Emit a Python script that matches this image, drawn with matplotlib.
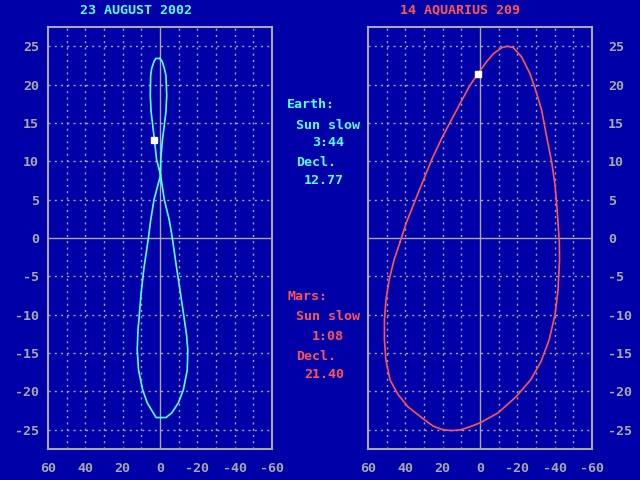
import matplotlib.pyplot as plt

# Earth analemma: sun slow/fast (min) vs declination (deg)
tierra_x = [0.0, 2.3, 3.2, 4.45, 5.0, 5.2, 4.8, 3.9, 3.0, 1.8, -0.3, -2.3, -5.0,
            -6.6, -8.9, -11.1, -12.9, -14.2, -14.9, -14.6, -12.5, -9.8, -6.3,
            -3.2, 2.1, 3.6, 6.8, 9.3, 11.5, 12.2, 11.8, 11.2, 10.2, 8.6, 6.2, 5.0,
            3.2, -0.3, -0.4, -1.3, -2.3, -3.2, -3.6, -3.2, -2.3, -1.2, 0.0]
tierra_y = [23.4, 23.4, 23.0, 22.1, 21.2, 18.6, 16.5, 14.7, 12.8, 10.2, 8.2, 5.0,
            2.3, 0.0, -3.9, -7.4, -10.4, -12.6, -14.6, -17.2, -19.8, -21.5, -22.8,
            -23.4, -23.4, -22.8, -21.5, -19.8, -17.2, -14.6, -12.0, -10.4, -7.4,
            -3.9, 0.0, 2.3, 5.0, 8.2, 10.2, 12.8, 14.7, 16.5, 18.6, 21.2, 22.1,
            23.0, 23.4]

# Mars analemma
marte_x = [42.8, 39.3, 33.9, 25.9, 20.3, 11.6, 5.4, -0.4, -3.6, -7.1, -11.6,
           -14.7, -17.9, -22.3, -26.8, -29.5, -33.0, -35.7, -38.4, -40.2, -41.4,
           -42.5, -42.6, -41.8, -40.2, -37.0, -32.7, -27.1, -19.3, -9.6, 0.0, 5.4,
           10.2, 15.0, 19.8, 25.2, 29.7, 38.6, 43.9, 48.2, 50.4, 51.2, 51.2, 50.4,
           48.7, 46.1, 42.8]
marte_y = [-0.5, 2.1, 5.4, 10.2, 13.1, 17.1, 19.9, 21.9, 23.0, 24.0, 24.8,
           25.0, 24.8, 23.6, 21.4, 19.5, 16.7, 13.2, 9.9, 6.9, 3.4,
           -0.5, -2.9, -6.8, -10.0, -13.3, -16.1, -18.5, -20.7, -22.8, -24.1, -24.6,
           -25.0, -25.1, -25.0, -24.5, -23.7, -22.0, -20.4, -18.5, -15.9, -13.3,
           -10.7, -8.1, -5.5, -2.9, -0.5]

# current position of the sun
tierra_hoy = (3.1, 12.77)
marte_hoy = (1.0, 21.40)

xticks = [60, 40, 20, 0, -20, -40, -60]
yticks = [-25, -20, -15, -10, -5, 0, 5, 10, 15, 20, 25]

fondo = '#0000a8'
gris = '#a8a8a8'
cian = '#55ffff'
rojo = '#ff5555'

plt.rcParams['font.family'] = 'DejaVu Sans Mono'
plt.rcParams['font.weight'] = 'bold'
plt.rcParams['axes.unicode_minus'] = False


def panel(ax, xs, ys, hoy, color, derecha):
    ax.set_facecolor(fondo)
    ax.set_xlim(60, -60)
    ax.set_ylim(-27.5, 27.5)
    for v in range(-50, 60, 10):
        if v != 0:
            ax.axvline(v, color=gris, lw=1.0, ls=(0, (1.5, 3)))
    for v in yticks:
        if v != 0:
            ax.axhline(v, color=gris, lw=1.0, ls=(0, (1.5, 3)))
    ax.axvline(0, color=gris, lw=1.0)
    ax.axhline(0, color=gris, lw=1.0)
    ax.plot(xs, ys, color=color, lw=1.2)
    ax.plot([hoy[0]], [hoy[1]], 's', color='white', ms=3.8, mec='white')
    ax.set_xticks(xticks)
    ax.set_xticklabels([str(t) for t in xticks])
    ax.set_yticks(yticks)
    ax.set_yticklabels([str(t) for t in yticks])
    ax.tick_params(axis='x', length=0, colors=gris, labelsize=9.6, pad=9)
    if derecha:
        ax.yaxis.tick_right()
        ax.tick_params(axis='y', length=0, colors=gris, labelsize=9.6, pad=11.5)
    else:
        ax.tick_params(axis='y', length=0, colors=gris, labelsize=9.6, pad=6.5)
    for s in ax.spines.values():
        s.set_color(gris)
        s.set_linewidth(1.5)


fig = plt.figure(figsize=(6.4, 4.8), dpi=100, facecolor=fondo)
ax1 = fig.add_axes([48 / 640, 31 / 480, 224 / 640, 422 / 480])
ax2 = fig.add_axes([368 / 640, 31 / 480, 224 / 640, 422 / 480])

panel(ax1, tierra_x, tierra_y, tierra_hoy, cian, False)
panel(ax2, marte_x, marte_y, marte_hoy, rojo, True)


def texto(x, y, s, color):
    fig.text(x / 640, 1 - y / 480, s, color=color, fontsize=9.6,
             ha='left', va='center')


fig.text(136 / 640, 1 - 10 / 480, '23 AUGUST 2002', color=cian, fontsize=9.6,
         ha='center', va='center')
fig.text(460 / 640, 1 - 10 / 480, '14 AQUARIUS 209', color=rojo, fontsize=9.6,
         ha='center', va='center')

texto(287, 105, 'Earth:', cian)
texto(296, 125, 'Sun slow', cian)
texto(312, 143, '3:44', cian)
texto(296, 162, 'Decl.', cian)
texto(304, 181, '12.77', cian)

texto(287, 297, 'Mars:', rojo)
texto(296, 317, 'Sun slow', rojo)
texto(312, 337, '1:08', rojo)
texto(296, 356, 'Decl.', rojo)
texto(304, 375, '21.40', rojo)

fig.savefig('out.png', dpi=100, facecolor=fondo)
